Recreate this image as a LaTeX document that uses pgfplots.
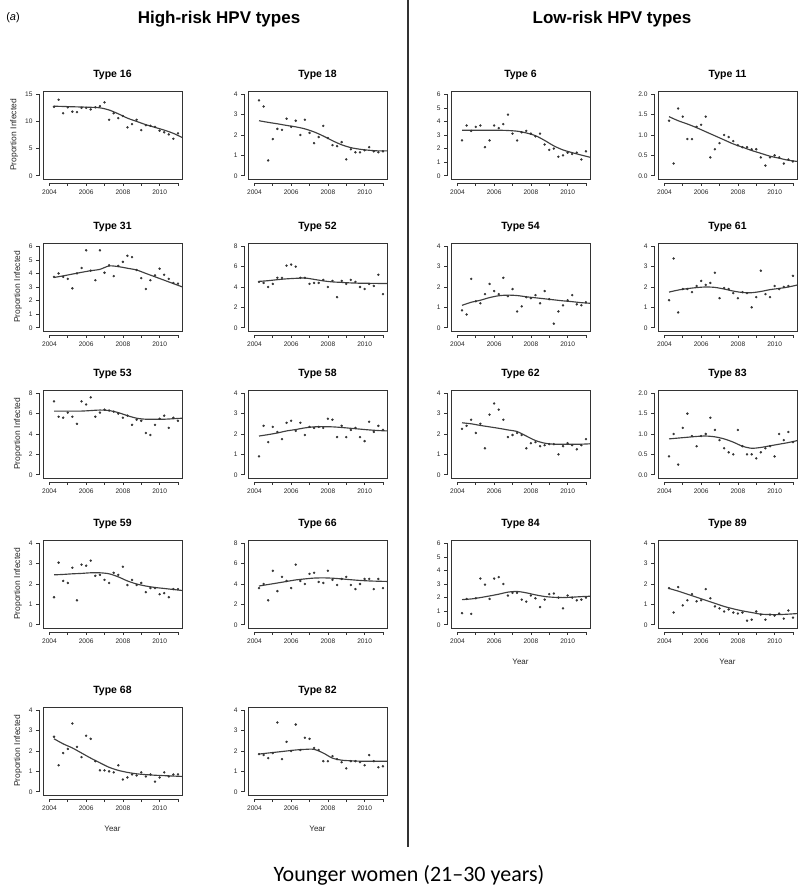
\documentclass[border=0pt]{standalone}
\usepackage{fontspec}
\setmainfont{Liberation Sans}
\newfontfamily\carlito{Carlito}
\usepackage{pgfplots}
\usepackage{pgfplotstable}
\pgfplotsset{compat=1.18}

\pgfplotstableread{
type c0 c1 c2 c3 c4 c5 c6 c7 c8 c9 c10 c11 c12 c13 c14 c15 c16 c17 c18 c19 c20 c21 c22 c23 c24 c25 c26 c27 c28
x 2004.25 2004.5 2004.75 2005 2005.25 2005.5 2005.75 2006 2006.25 2006.5 2006.75 2007 2007.25 2007.5 2007.75 2008 2008.25 2008.5 2008.75 2009 2009.25 2009.5 2009.75 2010 2010.25 2010.5 2010.75 2011 2011.25
t16 12.7 14 11.5 12.6 11.8 11.7 12.5 12.5 12.2 12.6 12.8 13.5 10.3 11.5 10.6 11 8.9 9.5 10.3 8.4 9.3 9.2 9.0 8.3 8.0 7.6 6.8 7.8 7.0
t18 3.7 3.4 0.75 1.8 2.3 2.25 2.8 2.4 2.7 2.0 2.75 2.1 1.6 1.9 2.45 1.85 1.5 1.45 1.65 0.8 1.3 1.15 1.15 1.25 1.4 1.2 1.15 1.2 1.5
t6 2.6 3.7 3.3 3.6 3.7 2.1 2.6 3.7 3.5 3.8 4.5 3.1 2.6 3.2 3.3 3.1 2.9 3.1 2.3 1.9 2.0 1.4 1.5 1.7 1.6 1.7 1.2 1.8 1.4
t11 1.35 0.3 1.65 1.45 0.9 0.9 1.2 1.25 1.45 0.45 0.65 0.8 1.0 0.95 0.85 0.75 0.7 0.7 0.65 0.65 0.45 0.25 0.45 0.5 0.45 0.3 0.4 0.35 0.55
t31 3.75 4.0 3.75 3.6 2.9 4.0 4.4 5.7 4.2 3.5 5.7 4.05 4.6 3.8 4.55 4.85 5.3 5.2 4.25 3.65 2.85 3.5 3.85 4.35 3.9 3.6 3.3 3.25 1.9
t52 4.5 4.4 4.0 4.3 4.9 4.9 6.1 6.2 6.0 4.9 4.9 4.3 4.4 4.4 4.7 4.0 4.6 3.0 4.6 4.3 4.7 4.5 4.0 3.8 4.3 4.1 5.2 3.3 4.7
t54 0.85 0.65 2.4 1.3 1.2 1.65 2.15 1.8 1.65 2.45 1.55 1.9 0.8 1.05 1.5 1.45 1.6 1.2 1.8 1.4 0.2 0.8 1.1 1.35 1.6 1.15 1.1 1.25 1.0
t61 1.35 3.4 0.75 1.9 1.9 1.75 2.05 2.3 2.1 2.2 2.7 1.45 1.95 1.9 1.7 1.45 1.75 1.7 1.0 1.5 2.8 1.65 1.5 2.05 1.9 2.0 2.05 2.55 1.7
t53 7.2 5.7 5.6 6.1 5.7 5.0 7.2 6.9 7.6 5.7 6.1 6.4 6.3 6.2 6.0 5.6 5.8 4.9 5.4 5.3 4.1 3.9 4.9 5.5 5.8 4.6 5.6 5.3 6.6
t58 0.9 2.4 1.6 2.35 2.1 1.75 2.55 2.65 2.15 2.55 1.95 2.35 2.3 2.35 2.3 2.75 2.7 1.85 2.4 1.85 2.2 2.3 1.85 1.65 2.6 2.1 2.4 2.2 1.9
t62 2.25 2.4 2.7 2.05 2.5 1.3 2.95 3.5 3.2 2.7 1.85 1.95 2.05 1.95 1.3 1.55 1.6 1.4 1.45 1.5 1.5 1.0 1.4 1.55 1.45 1.25 1.45 1.75 1.55
t83 0.45 1.0 0.25 1.15 1.5 0.95 0.7 0.95 1.0 1.4 1.1 0.85 0.65 0.55 0.5 1.1 0.7 0.5 0.5 0.4 0.55 0.65 0.7 0.45 1.0 0.85 1.05 0.8 0.5
t59 1.35 3.05 2.15 2.05 2.8 1.2 2.95 2.9 3.15 2.4 2.45 2.2 2.05 2.55 2.45 2.85 1.95 2.2 1.95 2.05 1.6 1.8 1.8 1.5 1.55 1.35 1.75 1.75 2.25
t66 3.6 4.0 2.4 5.3 3.3 4.7 4.3 3.6 5.9 4.3 4.0 5.0 5.1 4.2 4.1 5.3 4.4 3.9 4.5 4.7 3.9 3.5 4.0 4.5 4.5 3.5 4.5 3.6 4.8
t84 0.85 1.9 0.8 1.95 3.4 2.95 1.9 3.4 3.5 3.0 2.15 2.35 2.35 1.85 1.7 2.15 1.95 1.3 1.85 2.25 2.3 2.0 1.2 2.15 2.0 1.8 1.85 2.0 2.5
t89 1.8 0.6 1.85 0.95 1.2 1.5 1.15 1.2 1.75 1.3 0.9 0.8 0.65 0.75 0.6 0.55 0.6 0.2 0.25 0.65 0.5 0.25 0.5 0.45 0.55 0.3 0.7 0.35 0.55
t68 2.7 1.3 1.9 2.1 3.35 2.2 1.7 2.75 2.6 1.5 1.05 1.05 1.0 0.95 1.3 0.6 0.7 0.85 0.8 0.95 0.75 0.85 0.5 0.7 0.95 0.75 0.85 0.85 0.5
t82 1.85 1.8 1.65 1.9 3.4 1.6 2.45 2.0 3.3 2.05 2.65 2.6 2.15 2.05 1.5 1.5 1.75 1.6 1.45 1.15 1.5 1.5 1.45 1.3 1.8 1.5 1.2 1.25 1.75
}\rawpts
\pgfplotstabletranspose[colnames from=type]\pts\rawpts

\pgfplotstableread{
type f0 f1 f2 f3 f4 f5 f6 f7 f8 f9 f10 f11 f12 f13 f14
x 2004.25 2004.75 2005.25 2005.75 2006.25 2006.75 2007.25 2007.75 2008.25 2008.75 2009.25 2009.75 2010.25 2010.75 2011.25
t16 12.8 12.75 12.7 12.65 12.6 12.5 12.1 11.4 10.6 10.0 9.4 8.9 8.4 7.8 7.0
t18 2.7 2.62 2.55 2.47 2.4 2.3 2.15 1.95 1.72 1.52 1.38 1.3 1.25 1.22 1.22
t6 3.35 3.35 3.35 3.35 3.35 3.33 3.28 3.15 2.95 2.6 2.2 1.9 1.7 1.52 1.35
t11 1.45 1.35 1.27 1.18 1.08 0.98 0.88 0.78 0.7 0.62 0.55 0.48 0.43 0.38 0.35
t31 3.7 3.82 3.95 4.08 4.2 4.3 4.55 4.5 4.38 4.25 4.0 3.75 3.5 3.25 3.0
t52 4.55 4.62 4.72 4.8 4.85 4.88 4.75 4.6 4.5 4.45 4.4 4.37 4.36 4.35 4.35
t54 1.1 1.25 1.35 1.48 1.57 1.6 1.58 1.52 1.47 1.42 1.37 1.32 1.28 1.23 1.2
t61 1.75 1.85 1.92 1.97 2.0 1.98 1.9 1.8 1.73 1.72 1.78 1.87 1.93 2.0 2.1
t53 6.25 6.25 6.25 6.25 6.3 6.35 6.3 6.1 5.8 5.55 5.45 5.45 5.45 5.5 5.55
t58 1.9 1.97 2.05 2.15 2.22 2.3 2.35 2.36 2.35 2.32 2.28 2.24 2.2 2.17 2.15
t62 2.55 2.5 2.42 2.35 2.28 2.2 2.12 1.9 1.68 1.55 1.5 1.5 1.5 1.5 1.52
t83 0.88 0.9 0.92 0.94 0.95 0.93 0.88 0.8 0.7 0.65 0.67 0.71 0.75 0.79 0.84
t59 2.45 2.47 2.5 2.52 2.55 2.55 2.5 2.35 2.15 2.0 1.9 1.83 1.78 1.73 1.68
t66 3.8 3.95 4.1 4.25 4.4 4.5 4.58 4.6 4.57 4.5 4.42 4.35 4.3 4.27 4.25
t84 1.85 1.9 2.0 2.12 2.25 2.4 2.45 2.35 2.2 2.08 2.02 2.0 2.03 2.07 2.1
t89 1.78 1.65 1.5 1.35 1.2 1.05 0.9 0.78 0.68 0.6 0.52 0.5 0.5 0.52 0.55
t68 2.6 2.35 2.15 1.9 1.65 1.42 1.2 1.05 0.95 0.88 0.84 0.81 0.79 0.77 0.75
t82 1.85 1.9 1.95 2.0 2.05 2.08 2.08 1.9 1.65 1.55 1.52 1.5 1.5 1.5 1.5
}\rawfit
\pgfplotstabletranspose[colnames from=type]\fitt\rawfit

\pgfplotsset{
  panel/.style={scale only axis, width=139pt, height=88pt,
    xmin=2003.65, xmax=2011.22,
    xtick={2004,2005,...,2011}, xticklabels={2004,,2006,,2008,,2010,},
    axis lines*=left, separate axis lines,
    axis x line shift=4pt, axis y line shift=4pt,
    tick align=outside, major tick length=3pt,
    tick style={black!80, line width=0.6pt},
    axis line style={black!80, line width=0.6pt},
    x axis line style={shorten <=6.4pt, shorten >=4pt},
    y axis line style={shorten <=3.3pt, shorten >=3.3pt},
    tick label style={font=\fontsize{6.6}{8}\selectfont, text=black!85},
    /pgf/number format/assume math mode=true,
    title style={font=\bfseries\fontsize{10.5}{12}\selectfont, at={(0.5,1)}, anchor=south, yshift=2pt},
    ylabel style={font=\fontsize{8.5}{9}\selectfont, text=black!85},
    xlabel style={font=\fontsize{8}{9}\selectfont, text=black!85, yshift=-9pt},
    after end axis/.code={\draw[black!80, line width=0.7pt] (rel axis cs:0,0) rectangle (rel axis cs:1,1);},
    anchor=north west},
  ptsty/.style={only marks, mark=*, mark size=1.0pt, mark options={fill=black!80, draw=black!80}},
  fitsty/.style={no marks, smooth, line width=1.15pt, black!75},
  dec/.style={yticklabel style={/pgf/number format/.cd, fixed, fixed zerofill, precision=1}},
}

\newcommand{\panel}[6]{%
  \begin{axis}[panel, at={(#1pt,#2pt)}, title={#3}, ymin=-0.04*#4, ymax=1.04*#4, #5]
    \addplot[ptsty] table[x=x,y=#6]{\pts};
    \addplot[fitsty] table[x=x,y=#6]{\fitt};
  \end{axis}}

\begin{document}
\begin{tikzpicture}
\useasboundingbox (0pt,0pt) rectangle (800pt,887pt);
\node[font=\fontsize{11}{12}\selectfont] at (13pt,869pt) {(\textit{a})};
\node[font=\bfseries\fontsize{17}{19}\selectfont] at (219pt,868pt) {High-risk HPV types};
\node[font=\bfseries\fontsize{17}{19}\selectfont] at (612pt,868pt) {Low-risk HPV types};
\draw[line width=1.5pt, black!80] (408pt,887pt) -- (408pt,40pt);
\node[font=\carlito\fontsize{22}{26}\selectfont] at (409pt,12pt) {Younger women (21–30 years)};

% row 1
\panel{43}{796}{Type 16}{15}{ytick={0,5,10,15}, ylabel={Proportion Infected}}{t16}
\panel{248}{796}{Type 18}{4}{ytick={0,1,2,3,4}}{t18}
\panel{451}{796}{Type 6}{6}{ytick={0,1,...,6}}{t6}
\panel{658}{796}{Type 11}{2}{ytick={0,0.5,1,1.5,2}, dec}{t11}
% row 2
\panel{43}{644}{Type 31}{6}{ytick={0,1,...,6}, ylabel={Proportion Infected}}{t31}
\panel{248}{644}{Type 52}{8}{ytick={0,2,4,6,8}}{t52}
\panel{451}{644}{Type 54}{4}{ytick={0,1,2,3,4}}{t54}
\panel{658}{644}{Type 61}{4}{ytick={0,1,2,3,4}}{t61}
% row 3
\panel{43}{497}{Type 53}{8}{ytick={0,2,4,6,8}, ylabel={Proportion Infected}}{t53}
\panel{248}{497}{Type 58}{4}{ytick={0,1,2,3,4}}{t58}
\panel{451}{497}{Type 62}{4}{ytick={0,1,2,3,4}}{t62}
\panel{658}{497}{Type 83}{2}{ytick={0,0.5,1,1.5,2}, dec}{t83}
% row 4
\panel{43}{347}{Type 59}{4}{ytick={0,1,2,3,4}, ylabel={Proportion Infected}}{t59}
\panel{248}{347}{Type 66}{8}{ytick={0,2,4,6,8}}{t66}
\panel{451}{347}{Type 84}{6}{ytick={0,1,...,6}, xlabel={Year}}{t84}
\panel{658}{347}{Type 89}{4}{ytick={0,1,2,3,4}, xlabel={Year}}{t89}
% row 5
\panel{43}{180}{Type 68}{4}{ytick={0,1,2,3,4}, ylabel={Proportion Infected}, xlabel={Year}}{t68}
\panel{248}{180}{Type 82}{4}{ytick={0,1,2,3,4}, xlabel={Year}}{t82}
\end{tikzpicture}
\end{document}
